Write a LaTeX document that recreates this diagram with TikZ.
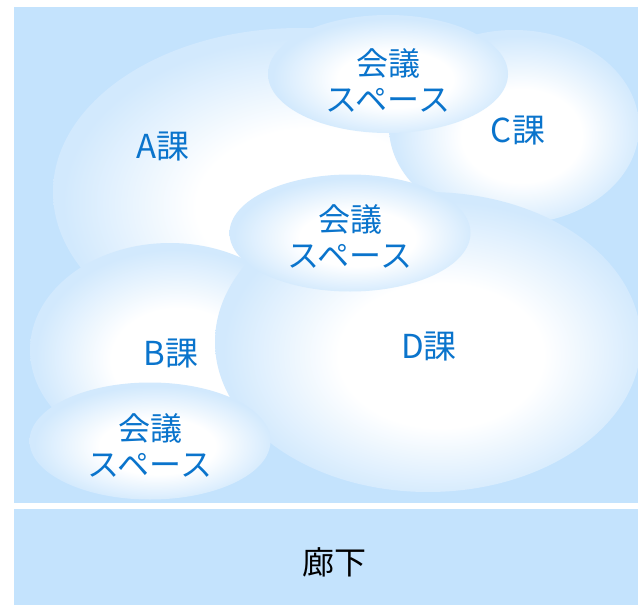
\documentclass[tikz,border=0pt]{standalone}
\usepackage{fontspec}
\setmainfont{Noto Sans CJK JP}
\usetikzlibrary{shapes.geometric}
\definecolor{bg}{HTML}{C4E3FD}
\definecolor{cloudedge}{HTML}{D2E9FD}
\definecolor{txt}{HTML}{0A74CC}
\pgfdeclareradialshading{cloud}{\pgfpoint{2bp}{-3bp}}{color(0bp)=(white); color(12bp)=(white); color(25bp)=(cloudedge); color(50bp)=(cloudedge)}
\tikzset{
  area/.style={ellipse, draw=none, shading=cloud, inner sep=0pt, outer sep=0pt},
  lbl/.style={text=txt, font=\fontsize{32pt}{36pt}\selectfont, align=center, inner sep=0pt},
  unit/.style={text=txt, font=\fontsize{33pt}{36pt}\selectfont, inner sep=0pt},
  band/.style={fill=bg, draw=none}
}
\begin{document}
\begin{tikzpicture}[x=1pt, y=-1pt]
\useasboundingbox[fill=white] (0,0) rectangle (638,605);
\fill[band] (14,7) rectangle (638,503);
\fill[band] (14,509) rectangle (638,605);
\begin{scope}
\clip (14,7) rectangle (638,503);
\node[area, minimum width=494pt, minimum height=328pt] (A) at (300,192) {};
\node[area, minimum width=250pt, minimum height=194pt] (C) at (514,127) {};
\node[area, minimum width=280pt, minimum height=214pt] (B) at (170,350) {};
\node[area, minimum width=426pt, minimum height=300pt] (D) at (428,342) {};
\node[area, minimum width=240pt, minimum height=118pt] (M1) at (388,74) {};
\node[area, minimum width=241pt, minimum height=117pt] (M2) at (350,233) {};
\node[area, minimum width=241pt, minimum height=117pt] (M3) at (150,441) {};
\end{scope}
\node[unit] (tA) at (163,147) {A課};
\node[unit] (tC) at (518,131) {C課};
\node[unit] (tB) at (171,354) {B課};
\node[unit] (tD) at (429,347) {D課};
\node[lbl] (t1) at (388,80) {会議\\スペース};
\node[lbl] (t2) at (350,236) {会議\\スペース};
\node[lbl] (t3) at (150,445) {会議\\スペース};
\node[lbl, text=black] (tR) at (334,562) {廊下};
\end{tikzpicture}
\end{document}
